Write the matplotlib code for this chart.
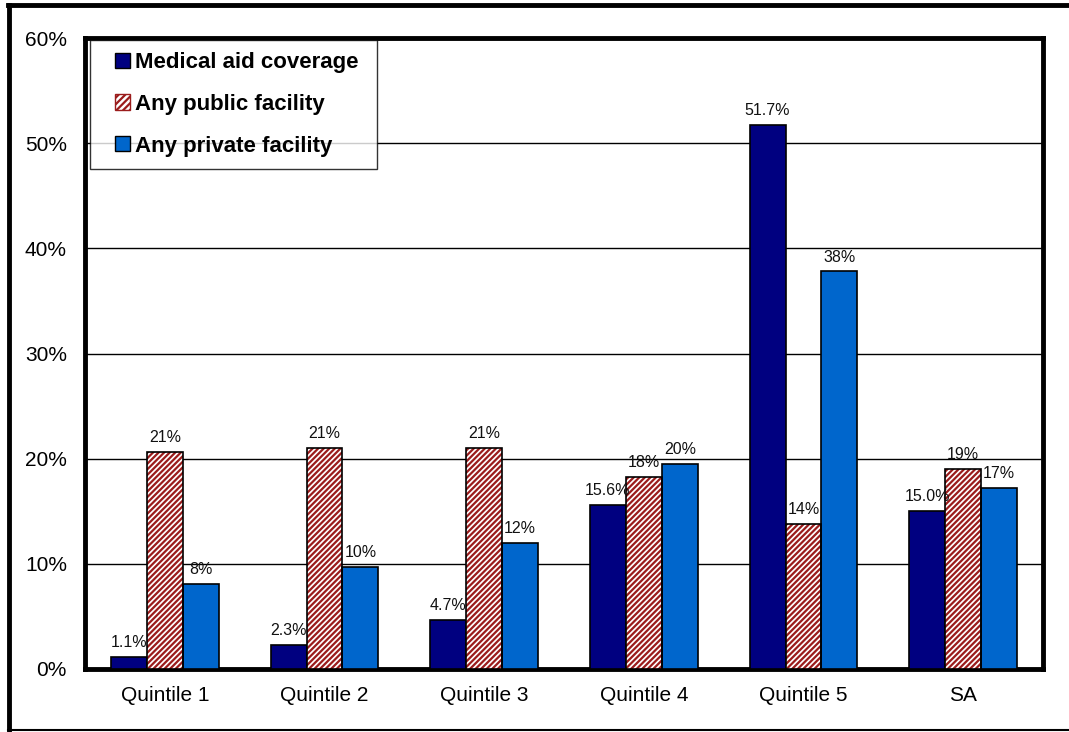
import matplotlib
matplotlib.use("Agg")
import matplotlib.pyplot as plt
import numpy as np
from matplotlib.lines import Line2D
from matplotlib.patches import Patch, Rectangle
from matplotlib.legend_handler import HandlerPatch

plt.rcParams['font.family'] = ['Liberation Sans', 'DejaVu Sans']
plt.rcParams['hatch.linewidth'] = 1.6

categories = ["Quintile 1", "Quintile 2", "Quintile 3", "Quintile 4", "Quintile 5", "SA"]
medical = [1.1, 2.3, 4.7, 15.6, 51.7, 15.0]
public = [20.6, 21.0, 21.0, 18.3, 13.8, 19.0]
private = [8.1, 9.7, 12.0, 19.5, 37.8, 17.2]
series_names = ["Medical aid coverage", "Any public facility", "Any private facility"]
yticks = [0, 10, 20, 30, 40, 50, 60]

c_med = "#000080"
c_pub = "#9B1C1C"
c_priv = "#0066CC"

W, H = 1069, 732
fig = plt.figure(figsize=(W / 100, H / 100), dpi=100)
ax = fig.add_axes([85 / W, 1 - 669 / H, (1043 - 85) / W, (669 - 38) / H])

x = np.arange(len(categories))
bw = 0.225

b1 = ax.bar(x - bw, medical, bw, color=c_med, edgecolor="black", linewidth=1.2, zorder=3)
b2h = ax.bar(x, public, bw, color="white", edgecolor=c_pub, hatch="//////", linewidth=0, zorder=3)
b2 = ax.bar(x, public, bw, color="none", edgecolor="black", linewidth=1.2, zorder=4)
b3 = ax.bar(x + bw, private, bw, color=c_priv, edgecolor="black", linewidth=1.2, zorder=3)

for xi, v in zip(x - bw, medical):
    ax.annotate(f"{v:.1f}%", (xi, v), xytext=(0, 5), textcoords="offset points",
                ha="center", va="bottom", fontsize=11.5, color="#111111", zorder=5)
for xi, v in zip(x, public):
    ax.annotate(f"{v:.0f}%", (xi, v), xytext=(0, 5), textcoords="offset points",
                ha="center", va="bottom", fontsize=11.5, color="#111111", zorder=5)
for xi, v in zip(x + bw, private):
    ax.annotate(f"{v:.0f}%", (xi, v), xytext=(0, 5), textcoords="offset points",
                ha="center", va="bottom", fontsize=11.5, color="#111111", zorder=5)

ax.set_xlim(-0.5, len(categories) - 0.5)
ax.set_ylim(0, 60)
ax.set_yticks(yticks)
ax.set_yticklabels([f"{t}%" for t in yticks])
ax.set_xticks(x)
ax.set_xticklabels(categories)
ax.tick_params(axis="y", length=0, pad=13, labelsize=15)
ax.tick_params(axis="x", length=0, pad=12, labelsize=15)
ax.yaxis.grid(True, color="black", linewidth=1.0, zorder=1)
ax.set_axisbelow(True)
for s in ax.spines.values():
    s.set_linewidth(3.5)
    s.set_color("black")


def square_right(legend, orig_handle, xdescent, ydescent, width, height, fontsize):
    return Rectangle((-xdescent + width - height, -ydescent), height, height)


handles = [
    Patch(facecolor=c_med, edgecolor="black", linewidth=1.0),
    Patch(facecolor="white", edgecolor=c_pub, hatch="/////", linewidth=1.0),
    Patch(facecolor=c_priv, edgecolor="black", linewidth=1.0),
]
ax_w, ax_h = 958, 631
leg = ax.legend(handles, series_names, loc="upper left",
                bbox_to_anchor=(5 / ax_w, 1 - 2 / ax_h, (377 - 90) / ax_w, 0),
                mode="expand",
                prop={"weight": "bold", "size": 16},
                frameon=True, fancybox=False, edgecolor="black",
                handler_map={Patch: HandlerPatch(patch_func=square_right)},
                handlelength=1.26, handleheight=0.68, handletextpad=0.23,
                labelspacing=0.93, borderpad=0.55, borderaxespad=0)
leg.get_frame().set_linewidth(1.0)
leg.set_zorder(6)

# outer figure frame
fig.add_artist(Line2D([8 / W, 1], [1 - 5 / H, 1 - 5 / H], color="black", linewidth=3.5, transform=fig.transFigure))
fig.add_artist(Line2D([9 / W, 9 / W], [0, 1 - 5 / H], color="black", linewidth=3.5, transform=fig.transFigure))
fig.add_artist(Line2D([8 / W, 1], [1 - 730 / H, 1 - 730 / H], color="black", linewidth=1.5, transform=fig.transFigure))

fig.savefig("out.png", dpi=100)
